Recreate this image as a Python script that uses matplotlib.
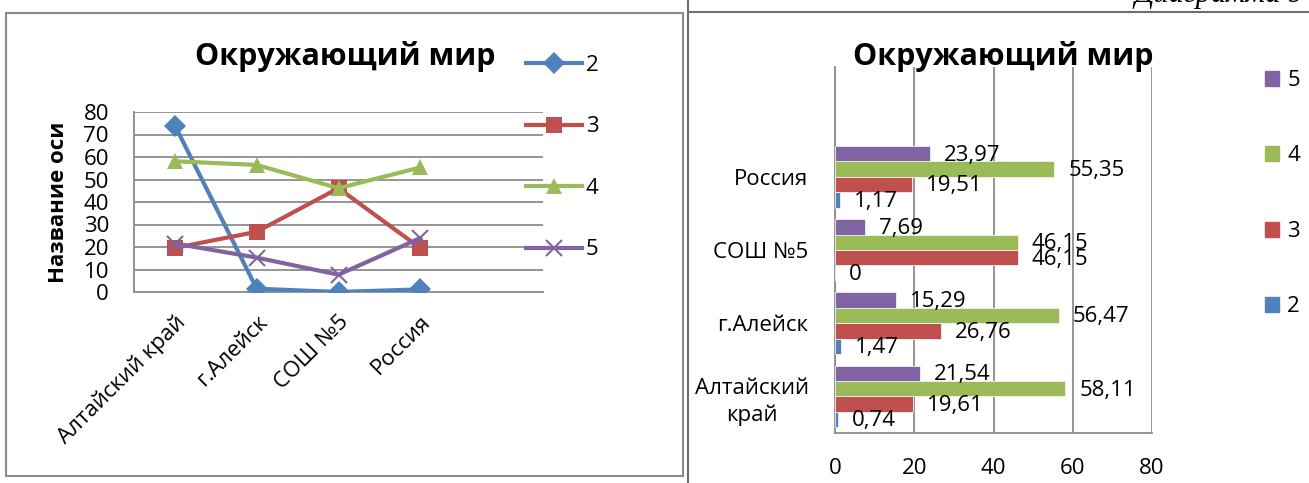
import matplotlib
matplotlib.use('Agg')
import matplotlib.pyplot as plt
from matplotlib.lines import Line2D
from matplotlib.patches import Patch, Rectangle
import numpy as np

plt.rcParams['font.family'] = ['Open Sans', 'DejaVu Sans']

# data
places = ['Алтайский край', 'г.Алейск', 'СОШ №5', 'Россия']
places_bar = ['Алтайский\nкрай', 'г.Алейск', 'СОШ №5', 'Россия']
grades = ['2', '3', '4', '5']
line_2 = [74, 1.47, 0, 1.17]
grade_2 = [0.74, 1.47, 0, 1.17]
grade_3 = [19.61, 26.76, 46.15, 19.51]
grade_4 = [58.11, 56.47, 46.15, 55.35]
grade_5 = [21.54, 15.29, 7.69, 23.97]

colors = ['#4F81BD', '#C0504D', '#9BBB59', '#8064A2']
markers = ['D', 's', '^', 'x']
msizes = [11, 11, 12, 11]
grid_c = '#8c8c8c'
fs = 16

W, H = 1309, 483
fig = plt.figure(figsize=(W / 100, H / 100), dpi=100)

def fx(px):
    return px / W

def fy(py):
    return 1 - py / H

# page lines
fig.add_artist(Rectangle((fx(6), fy(476)), fx(683) - fx(6), fy(13) - fy(476),
                         transform=fig.transFigure, fill=False, ec='#8a8a8a', lw=1.5))
fig.add_artist(Line2D([fx(688), fx(688)], [0, 1], transform=fig.transFigure, color='#6e6e6e', lw=1.5))
fig.add_artist(Line2D([fx(688), 1], [fy(12), fy(12)], transform=fig.transFigure, color='#6e6e6e', lw=1.5))
fig.text(fx(1304), fy(2), 'Диаграмма 9', ha='right', va='baseline', fontsize=22,
         family='Liberation Serif', style='italic')

# ---- left: line chart
ax1 = fig.add_axes([fx(134), fy(292), fx(543) - fx(134), fy(112) - fy(292)])
x = np.arange(len(places))
series = [line_2, grade_3, grade_4, grade_5]
handles = []
for i, vals in enumerate(series):
    ax1.plot(x, vals, color=colors[i], lw=3, marker=markers[i], ms=msizes[i],
             mew=1.5 if markers[i] == 'x' else 0, mec=colors[i], zorder=3)
    handles.append(Line2D([], [], color=colors[i], lw=3, marker=markers[i], ms=msizes[i],
                          mew=1.5 if markers[i] == 'x' else 0, mec=colors[i]))
ax1.set_xlim(-0.5, 4.5)
ax1.set_ylim(0, 80)
ax1.set_yticks(range(0, 81, 10))
ax1.set_xticks(x)
ax1.set_xticklabels(places, rotation=45, ha='right', rotation_mode='anchor', fontsize=fs)
ax1.tick_params(axis='y', length=0, pad=18, labelsize=fs)
ax1.tick_params(axis='x', length=0, pad=14)
ax1.grid(axis='y', color=grid_c, lw=1.3)
ax1.set_axisbelow(True)
for s in ['top', 'right']:
    ax1.spines[s].set_visible(False)
for s in ['left', 'bottom']:
    ax1.spines[s].set_color(grid_c)
    ax1.spines[s].set_linewidth(1.3)
ax1.set_ylabel('Название оси', fontsize=fs, fontweight='bold')
ax1.yaxis.set_label_coords(-0.16, 0.5)
fig.text(fx(345), fy(57), 'Окружающий мир', ha='center', va='center', fontsize=22, fontweight='bold')
fig.legend(handles, grades, loc='upper left', bbox_to_anchor=(fx(526), fy(55)), frameon=False,
           fontsize=fs, handlelength=2.5, handletextpad=0.2, labelspacing=1.82,
           borderpad=0, borderaxespad=0)

# ---- right: horizontal bars
ax2 = fig.add_axes([fx(835), fy(433), fx(1152) - fx(835), fy(67) - fy(433)])
bars = [grade_2, grade_3, grade_4, grade_5]
h = 0.21
for i, vals in enumerate(bars):
    yy = x + (i - 1.5) * h
    ax2.barh(yy, vals, height=h, color=colors[i], edgecolor='#f2f2f2', lw=0.6, zorder=3)
    for yv, v in zip(yy, vals):
        ax2.annotate(f'{v:g}'.replace('.', ','), (v, yv), xytext=(10, -1), textcoords='offset points',
                     ha='left', va='center', fontsize=fs, zorder=4)
ax2.set_xlim(0, 80)
ax2.set_ylim(-0.5, 4.5)
ax2.set_xticks(range(0, 81, 20))
ax2.set_yticks(x)
ax2.set_yticklabels(places_bar, fontsize=fs, ha='right', multialignment='center', linespacing=1.35)
ax2.tick_params(axis='y', length=0, pad=19, labelsize=fs)
ax2.tick_params(axis='x', length=0, pad=18, labelsize=fs)
ax2.grid(axis='x', color=grid_c, lw=1.3)
ax2.set_axisbelow(True)
for s in ['top', 'right']:
    ax2.spines[s].set_visible(False)
for s in ['left', 'bottom']:
    ax2.spines[s].set_color(grid_c)
    ax2.spines[s].set_linewidth(1.3)
fig.text(fx(1003), fy(57), 'Окружающий мир', ha='center', va='center', fontsize=22, fontweight='bold')
patches = [Patch(color=colors[i]) for i in range(4)][::-1]
fig.legend(patches, grades[::-1], loc='upper left', bbox_to_anchor=(fx(1265), fy(70)), frameon=False,
           fontsize=fs, handlelength=0.65, handleheight=0.65, handletextpad=0.35, labelspacing=2.45,
           borderpad=0, borderaxespad=0)

fig.savefig('out.png', dpi=100)
